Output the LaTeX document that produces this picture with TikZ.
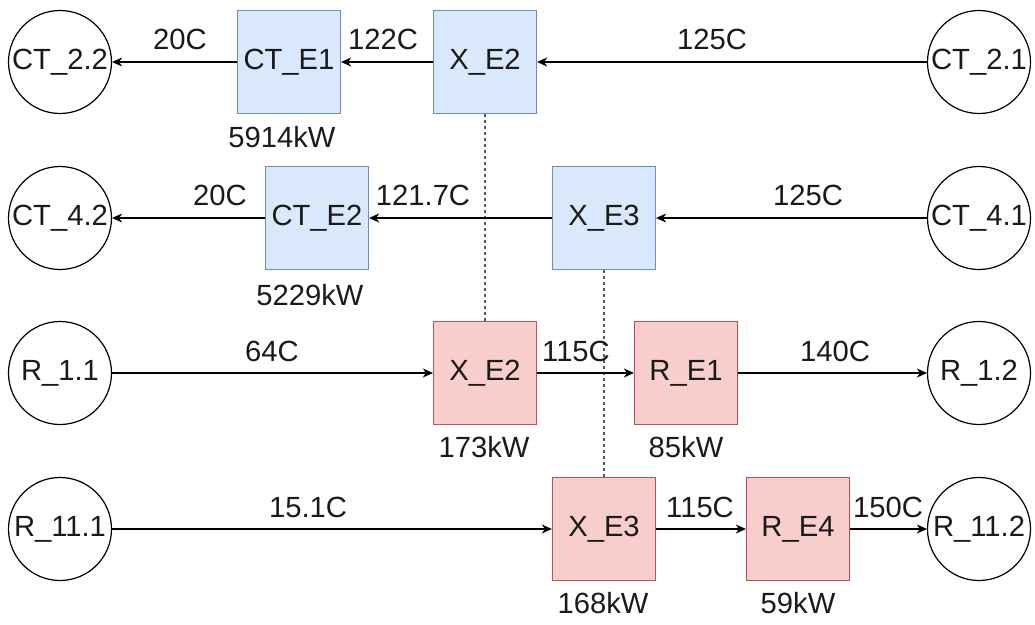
\documentclass[tikz,border=0pt]{standalone}
\usepackage{fontspec}
\setmainfont{Liberation Sans}
\usetikzlibrary{arrows.meta}
\definecolor{bluefill}{HTML}{DAE8FC}
\definecolor{blueline}{HTML}{6C8EBF}
\definecolor{redfill}{HTML}{F8CECC}
\definecolor{redline}{HTML}{B85450}
\definecolor{txt}{HTML}{1A1A1A}
\begin{document}
\begin{tikzpicture}[x=1pt,y=-1pt,
  every node/.style={font=\fontsize{29.2}{34}\selectfont, text=txt, inner sep=0pt},
  term/.style={circle, draw=black, line width=1.2pt, minimum size=103pt},
  bluebox/.style={rectangle, draw=blueline, fill=bluefill, line width=1.2pt, minimum size=103pt},
  redbox/.style={rectangle, draw=redline, fill=redfill, line width=1.2pt, minimum size=103pt},
  flow/.style={line width=1.3pt, -{Stealth[length=10pt,width=9pt,inset=3pt]}},
  link/.style={line width=1.1pt, draw=black!65, dash pattern=on 3pt off 3pt}]
\useasboundingbox (0,0) rectangle (1035,624);
% terminals
\node[term] (ct22) at (60,62) {CT\_2.2};
\node[term] (ct21) at (979,62) {CT\_2.1};
\node[term] (ct42) at (60,218) {CT\_4.2};
\node[term] (ct41) at (979,218) {CT\_4.1};
\node[term] (r11) at (60,373) {R\_1.1};
\node[term] (r12) at (979,373) {R\_1.2};
\node[term] (r111) at (60,529) {R\_11.1};
\node[term] (r112) at (979,529) {R\_11.2};
% boxes
\node[bluebox] (cte1) at (289,62) {CT\_E1};
\node[bluebox] (xe2b) at (485,62) {X\_E2};
\node[bluebox] (cte2) at (317,218) {CT\_E2};
\node[bluebox] (xe3b) at (604,218) {X\_E3};
\node[redbox] (xe2r) at (485,373) {X\_E2};
\node[redbox] (re1) at (686,373) {R\_E1};
\node[redbox] (xe3r) at (604,529) {X\_E3};
\node[redbox] (re4) at (798,529) {R\_E4};
% dashed links
\draw[link] (xe2b.south) -- (xe2r.north);
\draw[link] (xe3b.south) -- (xe3r.north);
% flows
\draw[flow] (ct21) -- (xe2b);
\draw[flow] (xe2b) -- (cte1);
\draw[flow] (cte1) -- (ct22);
\draw[flow] (ct41) -- (xe3b);
\draw[flow] (xe3b) -- (cte2);
\draw[flow] (cte2) -- (ct42);
\draw[flow] (r11) -- (xe2r);
\draw[flow] (xe2r) -- (re1);
\draw[flow] (re1) -- (r12);
\draw[flow] (r111) -- (xe3r);
\draw[flow] (xe3r) -- (re4);
\draw[flow] (re4) -- (r112);
% labels
\node (l1) at (180,39) {20C};
\node (l2) at (383,39) {122C};
\node (l3) at (712,39) {125C};
\node (p1) at (282,137) {5914kW};
\node (l4) at (220,195) {20C};
\node (l5) at (423,195) {121.7C};
\node (l6) at (808,195) {125C};
\node (p2) at (310,295) {5229kW};
\node (l7) at (272,351) {64C};
\node (l8) at (576,351) {115C};
\node (l9) at (835,351) {140C};
\node (p3) at (484,447) {173kW};
\node (p4) at (686,447) {85kW};
\node (l10) at (308,507) {15.1C};
\node (l11) at (700,507) {115C};
\node (l12) at (888,507) {150C};
\node (p5) at (603,603) {168kW};
\node (p6) at (798,603) {59kW};
\end{tikzpicture}
\end{document}
